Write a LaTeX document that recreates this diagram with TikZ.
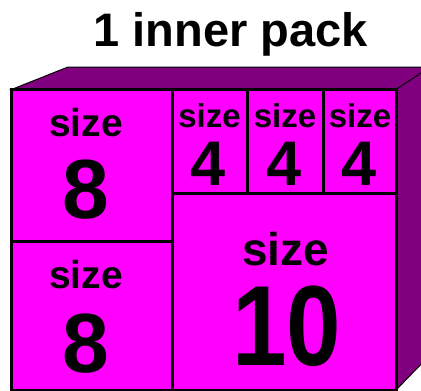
\documentclass[tikz,border=0pt]{standalone}
\usepackage{fontspec}
\setmainfont{Liberation Sans}
\definecolor{mag}{HTML}{FF00FF}
\definecolor{purp}{HTML}{800080}
\begin{document}
\begin{tikzpicture}[x=1pt,y=-1pt,
  face/.style={fill=purp,draw=black,line width=1pt,line join=miter},
  grid/.style={draw=black,line width=3pt},
  lbl/.style={anchor=base,inner sep=0pt,font=\bfseries},
]
\useasboundingbox (0,0) rectangle (421,391);
\begin{scope}
\clip (0,0) rectangle (421,391);
% 3D faces
\path[face] (11.5,89.5) -- (68,67) -- (430,67) -- (430,73) -- (396,89.5) -- cycle;
\path[face] (396,89.5) -- (430,67) -- (430,355) -- (396,390) -- cycle;
% front face
\fill[mag] (11.5,89.5) rectangle (396,390);
\draw[grid] (11.5,89.5) rectangle (396,390);
\draw[grid] (172,89.5) -- (172,390);
\draw[grid] (11.5,241.5) -- (172,241.5);
\draw[grid] (172,193.5) -- (396,193.5);
\draw[grid] (247,89.5) -- (247,193.5);
\draw[grid] (323,89.5) -- (323,193.5);
\end{scope}
% title
\node[lbl,font=\bfseries\fontsize{47}{47}\selectfont] (title) at (230.5,46.7) {1 inner pack};
% left boxes
\node[lbl,font=\bfseries\fontsize{39}{39}\selectfont] (s1) at (86,136) {size};
\node[lbl,font=\bfseries\fontsize{84}{84}\selectfont] (n1) at (86,218) {8};
\node[lbl,font=\bfseries\fontsize{39}{39}\selectfont] (s2) at (86,288) {size};
\node[lbl,font=\bfseries\fontsize{84}{84}\selectfont] (n2) at (86,372) {8};
% small boxes
\node[lbl,font=\bfseries\fontsize{33}{33}\selectfont] (s3) at (209.5,127) {size};
\node[lbl,font=\bfseries\fontsize{63}{63}\selectfont] (n3) at (208.5,185) {4};
\node[lbl,font=\bfseries\fontsize{33}{33}\selectfont] (s4) at (285,127) {size};
\node[lbl,font=\bfseries\fontsize{63}{63}\selectfont] (n4) at (284,185) {4};
\node[lbl,font=\bfseries\fontsize{33}{33}\selectfont] (s5) at (360,127) {size};
\node[lbl,font=\bfseries\fontsize{63}{63}\selectfont] (n5) at (359,185) {4};
% big box
\node[lbl,font=\bfseries\fontsize{46}{46}\selectfont] (s6) at (285.5,265) {size};
\node[lbl,font=\bfseries\fontsize{114}{114}\selectfont,xscale=0.86] (n6) at (287,365) {10};
\end{tikzpicture}
\end{document}
